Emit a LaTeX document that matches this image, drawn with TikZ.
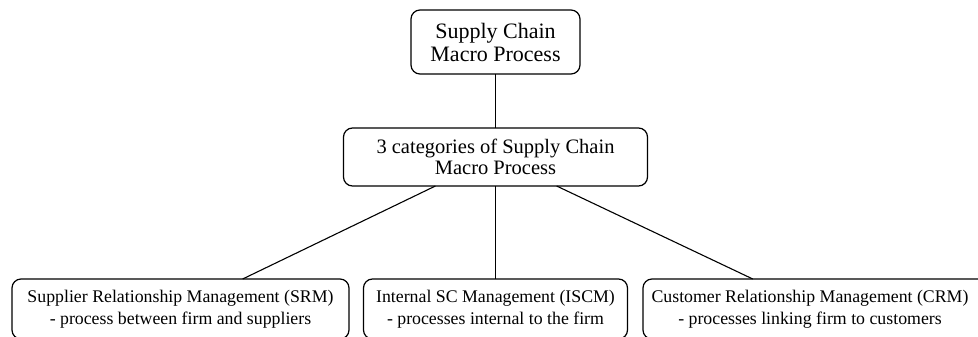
\documentclass[tikz,border=0pt]{standalone}
\usepackage{fontspec}
\setmainfont{Liberation Serif}
\begin{document}
\begin{tikzpicture}[x=1pt,y=-1pt,
  box/.style={draw=black, line width=1.2pt, rounded corners=9pt, align=center, inner sep=0pt, outer sep=0pt},
  link/.style={draw=black, line width=1.1pt}]
\useasboundingbox (0,0) rectangle (978,337);
\node[box, minimum width=169pt, minimum height=64pt, font=\fontsize{22}{23}\selectfont] (top) at (495.5,42) {Supply Chain\\Macro Process};
\node[box, minimum width=304pt, minimum height=58pt, font=\fontsize{20.5}{20.5}\selectfont] (mid) at (495.5,157) {3 categories of Supply Chain\\Macro Process};
\node[box, minimum width=337pt, minimum height=60pt, font=\fontsize{17.8}{22}\selectfont] (srm) at (180.5,309) {Supplier Relationship Management (SRM)\\- process between firm and suppliers};
\node[box, minimum width=264pt, minimum height=60pt, font=\fontsize{17.8}{22}\selectfont] (iscm) at (495.5,309) {Internal SC Management (ISCM)\\- processes internal to the firm};
\node[box, minimum width=346pt, minimum height=60pt, font=\fontsize{17.8}{22}\selectfont] (crm) at (816,309) {\hspace*{-12pt}Customer Relationship Management (CRM)\\\hspace*{-12pt}- processes linking firm to customers};
\draw[link] (top) -- (mid);
\draw[link] (mid) -- (srm);
\draw[link] (mid) -- (iscm);
\draw[link] (mid) -- (crm);
\end{tikzpicture}
\end{document}
